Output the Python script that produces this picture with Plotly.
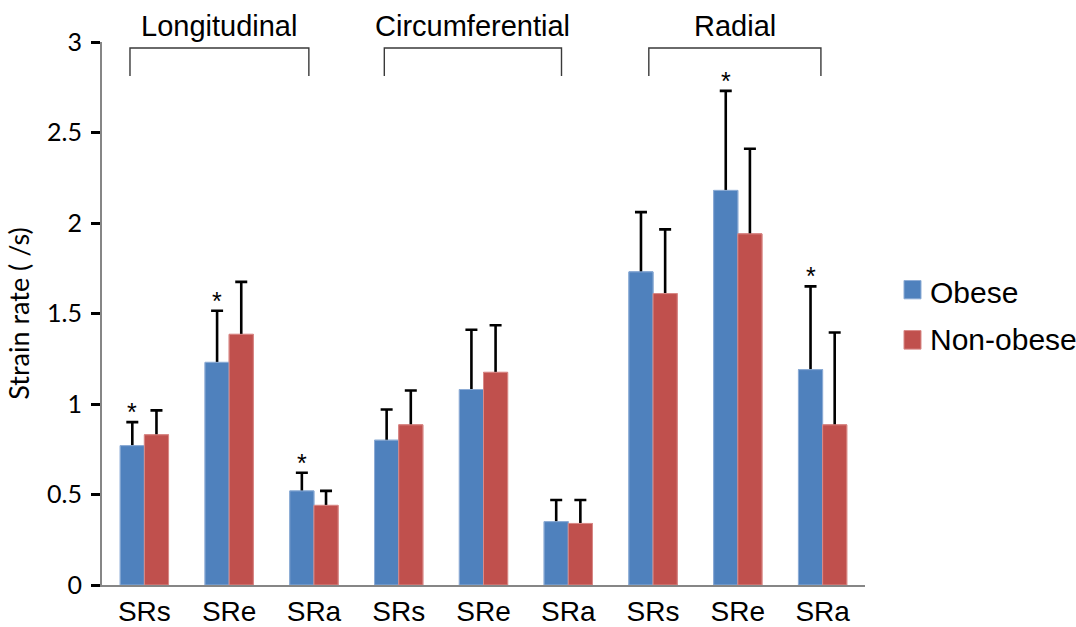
import plotly.graph_objects as go

# ---- data ----
categories = ["SRs", "SRe", "SRa", "SRs", "SRe", "SRa", "SRs", "SRe", "SRa"]
group_names = ["Longitudinal", "Circumferential", "Radial"]
obese = [0.77, 1.23, 0.52, 0.80, 1.08, 0.35, 1.73, 2.18, 1.19]
obese_err = [0.13, 0.285, 0.10, 0.17, 0.33, 0.12, 0.33, 0.55, 0.46]
nonobese = [0.83, 1.385, 0.44, 0.885, 1.175, 0.34, 1.61, 1.94, 0.885]
nonobese_err = [0.135, 0.29, 0.08, 0.19, 0.26, 0.13, 0.355, 0.47, 0.51]
obese_sig = [True, True, True, False, False, False, False, True, True]
series_names = ["Obese", "Non-obese"]

BLUE = "#4F81BD"
RED = "#C0504D"
BLUE_EDGE = "#8EADD6"
RED_EDGE = "#D98A88"

xpos = list(range(len(categories)))
BARGAP = 0.43

fig = go.Figure()

err_style = dict(type="data", symmetric=True, color="black", thickness=2.6, width=6)

# bars with error bars
fig.add_trace(go.Bar(x=xpos, y=obese, name=series_names[0], offsetgroup="o",
                     marker=dict(color=BLUE, line=dict(color=BLUE_EDGE, width=1)),
                     error_y=dict(array=obese_err, **err_style), showlegend=False))
fig.add_trace(go.Bar(x=xpos, y=nonobese, name=series_names[1], offsetgroup="n",
                     marker=dict(color=RED, line=dict(color=RED_EDGE, width=1)),
                     error_y=dict(array=nonobese_err, **err_style), showlegend=False))
# same bars again on top to hide the lower half of the error bars
fig.add_trace(go.Bar(x=xpos, y=obese, name=series_names[0], offsetgroup="o",
                     marker=dict(color=BLUE, line=dict(color=BLUE_EDGE, width=1)),
                     showlegend=False, hoverinfo="skip"))
fig.add_trace(go.Bar(x=xpos, y=nonobese, name=series_names[1], offsetgroup="n",
                     marker=dict(color=RED, line=dict(color=RED_EDGE, width=1)),
                     showlegend=False, hoverinfo="skip"))

annotations = []
shapes = []

# significance stars above obese bars
bar_w = (1 - BARGAP) / 2
for i, sig in enumerate(obese_sig):
    if sig:
        annotations.append(dict(x=xpos[i] - bar_w / 2, y=obese[i] + obese_err[i],
                                xref="x", yref="y", text="*", showarrow=False,
                                yanchor="bottom", yshift=-6,
                                font=dict(family="Liberation Sans, Arial", size=25, color="black")))

# group brackets and labels
group_spans = [(-0.17, 1.94), (2.83, 4.92), (5.95, 7.98)]
br_top, br_bot, lab_y = 2.967, 2.812, 1.0295
for name, (a, b) in zip(group_names, group_spans):
    shapes.append(dict(type="path", xref="x", yref="y",
                       path=f"M{a},{br_bot} L{a},{br_top} L{b},{br_top} L{b},{br_bot}",
                       line=dict(color="#3a3a3a", width=1.4)))
    annotations.append(dict(x=(a + b) / 2, y=lab_y, xref="x", yref="paper", text=name,
                            showarrow=False, yanchor="middle",
                            font=dict(family="Liberation Sans, Arial", size=29, color="black")))

# manual legend
leg = [(series_names[0], BLUE, BLUE_EDGE, 0.5607, 0.527, 0.5386),
       (series_names[1], RED, RED_EDGE, 0.4686, 0.4344, 0.4515)]
for name, col, edge, y1, y0, ty in leg:
    shapes.append(dict(type="rect", xref="paper", yref="paper", x0=1.0511, x1=1.0734,
                       y0=y0, y1=y1, fillcolor=col, line=dict(color=edge, width=1)))
    annotations.append(dict(x=1.083, y=ty, xref="paper", yref="paper", text=name,
                            showarrow=False, xanchor="left", yanchor="middle",
                            font=dict(family="Liberation Sans, Arial", size=30, color="black")))

fig.update_layout(
    width=1076, height=627,
    margin=dict(l=102, r=211, t=42, b=42, autoexpand=False),
    paper_bgcolor="white", plot_bgcolor="white",
    barmode="group", bargap=BARGAP, bargroupgap=0,
    showlegend=False,
    shapes=shapes, annotations=annotations,
    xaxis=dict(range=[-0.5, 8.5], tickmode="array", tickvals=xpos, ticktext=categories,
               showgrid=False, zeroline=False, showline=True, linecolor="#868686", linewidth=2,
               ticks="", ticklabelstandoff=0,
               tickfont=dict(family="Liberation Sans, Arial", size=28, color="black"),
               fixedrange=True),
    yaxis=dict(range=[0, 3], dtick=0.5, tick0=0, showgrid=False, zeroline=False,
               showline=True, linecolor="#868686", linewidth=2,
               ticks="outside", ticklen=9, tickwidth=2.5, tickcolor="black",
               ticklabelstandoff=4,
               tickfont=dict(family="Lato, Liberation Sans", size=25, color="black"),
               title=dict(text="Strain rate ( /s)", standoff=10,
                          font=dict(family="Lato, Liberation Sans", size=27, color="black")),
               fixedrange=True),
)

fig.write_html("out.html")
